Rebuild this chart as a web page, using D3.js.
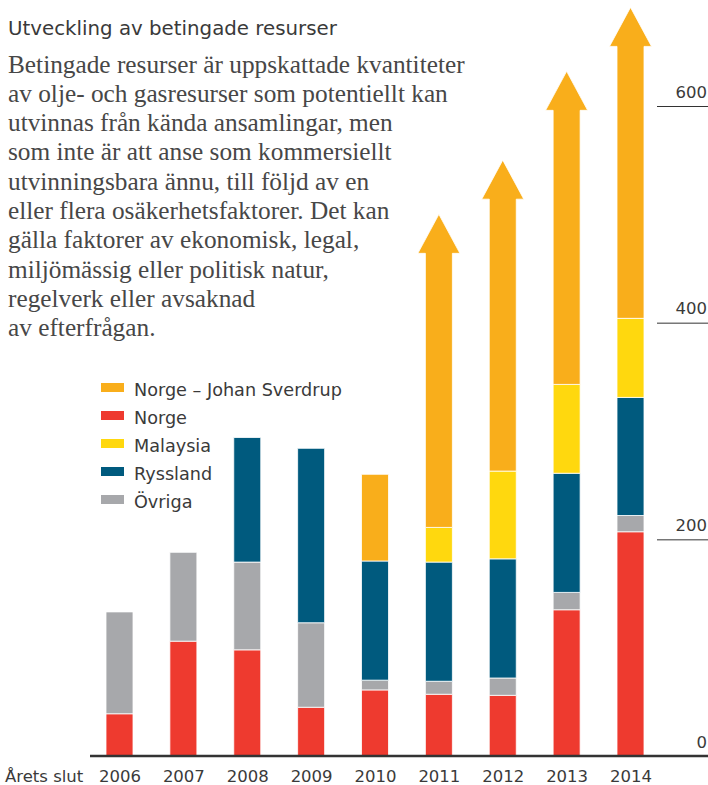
<!DOCTYPE html>
<html lang="sv">
  <head>
    <meta charset="utf-8">
    <title>Utveckling av betingade resurser</title>
    <script src="https://cdnjs.cloudflare.com/ajax/libs/d3/7.8.5/d3.min.js"></script>
    <style>
      body { margin: 0; background: #fff; }
      .sans { font-family: "DejaVu Sans", sans-serif; fill: #3a3a3a; }
      .serif { font-family: "Liberation Serif", serif; fill: #474747; }
    </style>
  </head>
  <body>
    <script>
      // data (million boe, stacked bottom -> top)
      const years = ["2006", "2007", "2008", "2009", "2010", "2011", "2012", "2013", "2014"];
      const norge    = [39, 106, 98, 45, 61, 57, 56, 135, 207];
      const ovriga   = [94, 82, 81, 78, 9, 12, 16, 16, 15];
      const ryssland = [0, 0, 115, 161, 110, 110, 110, 110, 109];
      const malaysia = [0, 0, 0, 0, 0, 32, 81, 82, 73];
      const sverdrup = [0, 0, 0, 0, 80, 289, 287, 289, 287];
      // Sverdrup segment drawn as an open ended arrow these years
      const openEnded = [false, false, false, false, false, true, true, true, true];

      const yTicks = [0, 200, 400, 600];
      const seriesNames = ["Norge – Johan Sverdrup", "Norge", "Malaysia", "Ryssland", "Övriga"];
      const bodyLines = [
        "Betingade resurser är uppskattade kvantiteter",
        "av olje- och gasresurser som potentiellt kan",
        "utvinnas från kända ansamlingar, men",
        "som inte är att anse som kommersiellt",
        "utvinningsbara ännu, till följd av en",
        "eller flera osäkerhetsfaktorer. Det kan",
        "gälla faktorer av ekonomisk, legal,",
        "miljömässig eller politisk natur,",
        "regelverk eller avsaknad",
        "av efterfrågan."
      ];

      const w = 708, h = 785;
      const colors = {
        sverdrup: "#f9ae1b",
        norge: "#ee3a2f",
        malaysia: "#ffd80e",
        ryssland: "#005a7e",
        ovriga: "#a7a8ab"
      };

      const table = years.map((y, i) => ({
        year: y, norge: norge[i], ovriga: ovriga[i], ryssland: ryssland[i],
        malaysia: malaysia[i], sverdrup: sverdrup[i], open: openEnded[i]
      }));

      const keys = ["norge", "ovriga", "ryssland", "malaysia", "sverdrup"];
      const stacked = d3.stack().keys(keys)(table);

      const svg = d3.select("body").append("svg")
        .attr("width", w)
        .attr("height", h);

      const x = d3.scalePoint().domain(years).range([119.5, 630.5]);
      const y = d3.scaleLinear().domain([0, 600]).range([756, 106]);
      const barW = 27;
      const headW = 42, headH = 39;

      // scale a text selection so a sample node gets a target width
      function fitTo(sel, node, base, target) {
        const cw = node.getComputedTextLength();
        const size = base * target / cw;
        sel.style("font-size", size + "px");
        return size;
      }

      // title + intro text
      const title = svg.append("text")
        .attr("class", "sans")
        .attr("x", 8).attr("y", 35)
        .style("font-size", "17px")
        .text("Utveckling av betingade resurser");
      fitTo(title, title.node(), 17, 329);

      const body = svg.append("g");
      body.selectAll("text")
        .data(bodyLines)
        .enter()
        .append("text")
        .attr("class", "serif")
        .attr("x", 8)
        .attr("y", (d, i) => 72.5 + i * 29.3)
        .style("font-size", "22px")
        .text(d => d);
      fitTo(body.selectAll("text"), body.select("text").node(), 22, 457);

      // bars
      const layers = svg.append("g").selectAll("g")
        .data(stacked)
        .enter()
        .append("g")
        .attr("fill", d => colors[d.key]);

      layers.selectAll("path")
        .data(d => d.filter(s => s[1] > s[0]).map(s => ({ s: s, key: d.key })))
        .enter()
        .append("path")
        .attr("stroke", "#fff")
        .attr("stroke-width", 0.8)
        .attr("d", d => {
          const cx = x(d.s.data.year);
          const x0 = cx - barW / 2, x1 = cx + barW / 2;
          const yb = y(d.s[0]), yt = y(d.s[1]);
          if (d.key === "sverdrup" && d.s.data.open) {
            const yh = yt + headH;
            return "M" + x0 + "," + yb + "L" + x0 + "," + yh + "L" + (cx - headW / 2) + "," + yh +
              "L" + cx + "," + yt + "L" + (cx + headW / 2) + "," + yh + "L" + x1 + "," + yh +
              "L" + x1 + "," + yb + "Z";
          }
          return "M" + x0 + "," + yb + "L" + x0 + "," + yt + "L" + x1 + "," + yt + "L" + x1 + "," + yb + "Z";
        });

      // baseline
      svg.append("line")
        .attr("x1", 90).attr("x2", w)
        .attr("y1", y(0)).attr("y2", y(0))
        .attr("stroke", "#333")
        .attr("stroke-width", 2.3);

      // year labels
      const xAxis = d3.axisBottom(x).tickSize(0).tickPadding(0);
      const xa = svg.append("g")
        .attr("transform", "translate(0,782)")
        .call(xAxis);
      xa.select(".domain").remove();
      const yearText = xa.selectAll("text")
        .attr("class", "sans")
        .attr("dy", 0)
        .attr("fill", null)
        .style("font-family", "'DejaVu Sans', sans-serif")
        .style("font-size", "17px");
      const numSize = fitTo(yearText, yearText.node(), 17, 42);

      svg.append("text")
        .attr("class", "sans")
        .attr("x", 5).attr("y", 782)
        .style("font-size", numSize + "px")
        .text("Årets slut");

      // right hand scale
      const yAxis = d3.axisRight(y).tickValues(yTicks).tickSize(60).tickPadding(0);
      const ax = svg.append("g")
        .attr("transform", "translate(657,0)")
        .call(yAxis);
      ax.select(".domain").remove();
      ax.selectAll("line").attr("stroke", "#333").attr("stroke-width", 1);
      ax.selectAll("text")
        .attr("class", "sans")
        .attr("fill", null)
        .attr("x", 50)
        .attr("dy", -9)
        .attr("text-anchor", "end")
        .style("font-family", "'DejaVu Sans', sans-serif")
        .style("font-size", numSize + "px");

      // legend
      const legendKeys = ["sverdrup", "norge", "malaysia", "ryssland", "ovriga"];
      const legend = svg.append("g").selectAll("g")
        .data(legendKeys)
        .enter()
        .append("g")
        .attr("transform", (d, i) => "translate(101," + (396 + i * 28) + ")");
      legend.append("rect")
        .attr("x", 0).attr("y", -13)
        .attr("width", 23).attr("height", 9)
        .attr("fill", d => colors[d]);
      const legText = legend.append("text")
        .attr("class", "sans")
        .attr("x", 33).attr("y", 0)
        .style("font-size", "16px")
        .text((d, i) => seriesNames[i]);
      fitTo(legText, legText.node(), 16, 208);
    </script>
  </body>
</html>
